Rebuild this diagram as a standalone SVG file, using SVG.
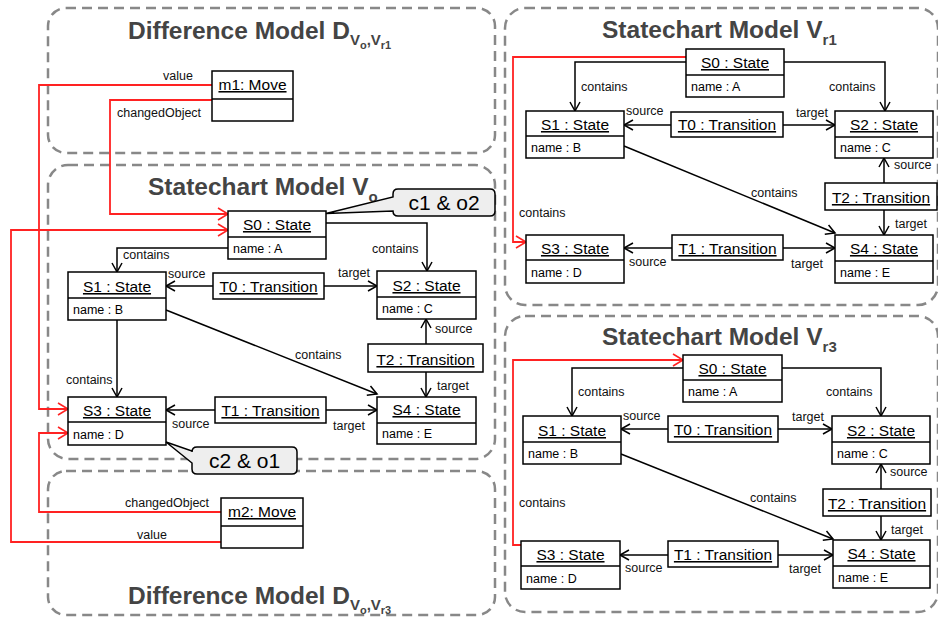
<svg xmlns="http://www.w3.org/2000/svg" width="938" height="621" viewBox="0 0 938 621">
<style>
.panel{fill:none;stroke:#888;stroke-width:2.5;stroke-dasharray:10 6}
.title{font-family:"Liberation Sans",Arial,sans-serif;font-weight:bold;fill:#444;font-size:24.5px}
.sub{font-size:15px}
.subsub{font-size:11px}
.box{fill:#fff;stroke:#000;stroke-width:1.5}
.nm{font-family:"Liberation Sans",Arial,sans-serif;font-size:15.5px;text-anchor:middle;text-decoration:underline;fill:#000}
.at{font-family:"Liberation Sans",Arial,sans-serif;font-size:12.5px;fill:#000}
.lbl{font-family:"Liberation Sans",Arial,sans-serif;font-size:12.5px;fill:#111}
.c{fill:none;stroke:#000;stroke-width:1.5}
.r{fill:none;stroke:#ff2222;stroke-width:1.8}
.call{fill:#eeeeee;stroke:#000;stroke-width:1.5}
.ct{font-family:"Liberation Sans",Arial,sans-serif;font-size:21px;text-anchor:middle;fill:#000}
</style>
<defs>
<marker id="a" viewBox="-11 -7 13 14" refX="0" refY="0" markerWidth="13" markerHeight="14" markerUnits="userSpaceOnUse" orient="auto">
<path d="M-9,-5 L0,0 L-9,5" fill="none" stroke="#000" stroke-width="1.5"/>
</marker>
<marker id="ar" viewBox="-11 -7 13 14" refX="0" refY="0" markerWidth="13" markerHeight="14" markerUnits="userSpaceOnUse" orient="auto">
<path d="M-10,-6 L0,0 L-10,6" fill="none" stroke="#ff2222" stroke-width="1.6"/>
</marker>
</defs>

<!-- panels -->
<g id="panels">
<rect class="panel" x="48" y="8" width="447" height="145" rx="18"/>
<rect class="panel" x="48" y="165" width="447" height="294" rx="20"/>
<rect class="panel" x="48" y="471" width="447" height="144" rx="18"/>
<rect class="panel" x="505" y="8" width="433" height="297" rx="20"/>
<rect class="panel" x="505" y="316" width="433" height="296" rx="20"/>
</g>

<g id="titles">
<text class="title" x="128" y="39">Difference Model D<tspan class="sub" dy="6">V</tspan><tspan class="subsub" dy="4">o</tspan><tspan class="sub" dy="-4">,V</tspan><tspan class="subsub" dy="4">r1</tspan></text>
<text class="title" x="148" y="195">Statechart Model V<tspan class="sub" dy="7">o</tspan></text>
<text class="title" x="128" y="604">Difference Model D<tspan class="sub" dy="6">V</tspan><tspan class="subsub" dy="4">o</tspan><tspan class="sub" dy="-4">,V</tspan><tspan class="subsub" dy="4">r3</tspan></text>
<text class="title" x="602" y="38">Statechart Model V<tspan class="sub" dy="7">r1</tspan></text>
<text class="title" x="602" y="345">Statechart Model V<tspan class="sub" dy="7">r3</tspan></text>
</g>

<!-- connectors -->
<g id="connectors">
<!-- Vo -->
<polyline class="c" points="228,248 117,248 117,272" marker-end="url(#a)"/>
<polyline class="c" points="326,223 427,223 427,271" marker-end="url(#a)"/>
<line class="c" x1="213" y1="286" x2="166" y2="286" marker-end="url(#a)"/>
<line class="c" x1="324" y1="286" x2="377" y2="286" marker-end="url(#a)"/>
<line class="c" x1="166" y1="310" x2="377" y2="394" marker-end="url(#a)"/>
<line class="c" x1="426" y1="344" x2="426" y2="319" marker-end="url(#a)"/>
<line class="c" x1="426" y1="372" x2="426" y2="397" marker-end="url(#a)"/>
<line class="c" x1="117" y1="320" x2="117" y2="397" marker-end="url(#a)"/>
<line class="c" x1="215" y1="410" x2="166" y2="410" marker-end="url(#a)"/>
<line class="c" x1="326" y1="410" x2="377" y2="410" marker-end="url(#a)"/>
<!-- Vr1 -->
<polyline class="c" points="686,62 575,62 575,111" marker-end="url(#a)"/>
<polyline class="c" points="784,62 885,62 885,111" marker-end="url(#a)"/>
<line class="c" x1="671" y1="125" x2="624" y2="125" marker-end="url(#a)"/>
<line class="c" x1="783" y1="125" x2="835" y2="125" marker-end="url(#a)"/>
<line class="c" x1="624" y1="146" x2="835" y2="233" marker-end="url(#a)"/>
<line class="c" x1="884" y1="183" x2="884" y2="158" marker-end="url(#a)"/>
<line class="c" x1="884" y1="210" x2="884" y2="235" marker-end="url(#a)"/>
<line class="c" x1="672" y1="248" x2="624" y2="248" marker-end="url(#a)"/>
<line class="c" x1="783" y1="248" x2="835" y2="248" marker-end="url(#a)"/>
<!-- Vr3 -->
<polyline class="c" points="683,368 572,368 572,416" marker-end="url(#a)"/>
<polyline class="c" points="782,368 881,368 881,416" marker-end="url(#a)"/>
<line class="c" x1="668" y1="429" x2="621" y2="429" marker-end="url(#a)"/>
<line class="c" x1="778" y1="429" x2="832" y2="429" marker-end="url(#a)"/>
<line class="c" x1="621" y1="454" x2="833" y2="539" marker-end="url(#a)"/>
<line class="c" x1="881" y1="489" x2="881" y2="464" marker-end="url(#a)"/>
<line class="c" x1="881" y1="516" x2="881" y2="540" marker-end="url(#a)"/>
<line class="c" x1="668" y1="555" x2="620" y2="555" marker-end="url(#a)"/>
<line class="c" x1="778" y1="555" x2="833" y2="555" marker-end="url(#a)"/>
<!-- red -->
<polyline class="r" points="212,85 39,85 39,409 68,409" marker-end="url(#ar)"/>
<polyline class="r" points="212,100 110,100 110,214 228,214" marker-end="url(#ar)"/>
<polyline class="r" points="221,512 39,512 39,433 68,433" marker-end="url(#ar)"/>
<polyline class="r" points="221,542 11,542 11,230 228,230" marker-end="url(#ar)"/>
<polyline class="r" points="686,57 513,57 513,242 526,242" marker-end="url(#ar)"/>
<polyline class="r" points="521,545 513,545 513,360 683,360" marker-end="url(#ar)"/>
</g>

<g id="labels">
<text class="lbl" x="163" y="80">value</text>
<text class="lbl" x="117" y="117">changedObject</text>
<text class="lbl" x="125" y="507">changedObject</text>
<text class="lbl" x="137" y="539">value</text>
<text class="lbl" x="123" y="259">contains</text>
<text class="lbl" x="168" y="278">source</text>
<text class="lbl" x="338" y="277">target</text>
<text class="lbl" x="372" y="253">contains</text>
<text class="lbl" x="295" y="359">contains</text>
<text class="lbl" x="435" y="333">source</text>
<text class="lbl" x="437" y="390">target</text>
<text class="lbl" x="66" y="384">contains</text>
<text class="lbl" x="172" y="428">source</text>
<text class="lbl" x="333" y="430">target</text>
<text class="lbl" x="581" y="91">contains</text>
<text class="lbl" x="829" y="91">contains</text>
<text class="lbl" x="626" y="115">source</text>
<text class="lbl" x="796" y="117">target</text>
<text class="lbl" x="894" y="169">source</text>
<text class="lbl" x="751" y="197">contains</text>
<text class="lbl" x="895" y="228">target</text>
<text class="lbl" x="519" y="217">contains</text>
<text class="lbl" x="629" y="266">source</text>
<text class="lbl" x="791" y="268">target</text>
<text class="lbl" x="578" y="396">contains</text>
<text class="lbl" x="826" y="396">contains</text>
<text class="lbl" x="623" y="420">source</text>
<text class="lbl" x="792" y="421">target</text>
<text class="lbl" x="890" y="476">source</text>
<text class="lbl" x="750" y="502">contains</text>
<text class="lbl" x="519" y="507">contains</text>
<text class="lbl" x="891" y="534">target</text>
<text class="lbl" x="625" y="572">source</text>
<text class="lbl" x="789" y="573">target</text>
</g>

<!-- Difference model nodes -->
<g id="m1"><rect class="box" x="212" y="71" width="81" height="50"/><line class="c" x1="212" y1="99" x2="293" y2="99"/><text class="nm" x="252.5" y="90">m1: Move</text></g>
<g id="m2"><rect class="box" x="221" y="498" width="82" height="50"/><line class="c" x1="221" y1="526" x2="303" y2="526"/><text class="nm" x="262" y="517">m2: Move</text></g>

<!-- Vo nodes -->
<g id="vo-S0"><rect class="box" x="228" y="211" width="98" height="48"/><line class="c" x1="228" y1="237" x2="326" y2="237"/><text class="nm" x="277" y="230">S0 : State</text><text class="at" x="233" y="253">name : A</text></g>
<g id="vo-S1"><rect class="box" x="68" y="272" width="98" height="48"/><line class="c" x1="68" y1="298" x2="166" y2="298"/><text class="nm" x="117" y="292">S1 : State</text><text class="at" x="73" y="314">name : B</text></g>
<g id="vo-S2"><rect class="box" x="377" y="271" width="99" height="48"/><line class="c" x1="377" y1="297" x2="476" y2="297"/><text class="nm" x="426.5" y="291">S2 : State</text><text class="at" x="382" y="313">name : C</text></g>
<g id="vo-T0"><rect class="box" x="213" y="273" width="111" height="26"/><text class="nm" x="268.5" y="292">T0 : Transition</text></g>
<g id="vo-T2"><rect class="box" x="368" y="344" width="115" height="28"/><text class="nm" x="425.5" y="365">T2 : Transition</text></g>
<g id="vo-S3"><rect class="box" x="68" y="397" width="98" height="48"/><line class="c" x1="68" y1="422" x2="166" y2="422"/><text class="nm" x="117" y="416">S3 : State</text><text class="at" x="73" y="439">name : D</text></g>
<g id="vo-S4"><rect class="box" x="377" y="397" width="99" height="47"/><line class="c" x1="377" y1="423" x2="476" y2="423"/><text class="nm" x="426.5" y="415">S4 : State</text><text class="at" x="382" y="438">name : E</text></g>
<g id="vo-T1"><rect class="box" x="215" y="397" width="111" height="26"/><text class="nm" x="270.5" y="416">T1 : Transition</text></g>

<!-- callouts -->
<g id="callout1"><path class="call" d="M398,189 H490 Q495,189 495,194 V211 Q495,216 490,216 H398 Q393,216 393,211 V211 L326,213.5 L393,197 V194 Q393,189 398,189 Z"/><text class="ct" x="444" y="210">c1 &amp; o2</text></g>
<g id="callout2"><path class="call" d="M197,447 H292 Q297,447 297,452 V469 Q297,474 292,474 H197 Q192,474 192,469 V463 L166,442 L192,451 V452 Q192,447 197,447 Z"/><text class="ct" x="244.5" y="468">c2 &amp; o1</text></g>

<!-- Vr1 nodes -->
<g id="r1-S0"><rect class="box" x="686" y="49" width="98" height="48"/><line class="c" x1="686" y1="75" x2="784" y2="75"/><text class="nm" x="735" y="68">S0 : State</text><text class="at" x="691" y="91">name : A</text></g>
<g id="r1-S1"><rect class="box" x="526" y="111" width="98" height="47"/><line class="c" x1="526" y1="136" x2="624" y2="136"/><text class="nm" x="575" y="130">S1 : State</text><text class="at" x="531" y="152">name : B</text></g>
<g id="r1-T0"><rect class="box" x="671" y="112" width="112" height="25"/><text class="nm" x="727" y="130">T0 : Transition</text></g>
<g id="r1-S2"><rect class="box" x="835" y="111" width="98" height="47"/><line class="c" x1="835" y1="137" x2="933" y2="137"/><text class="nm" x="884" y="130">S2 : State</text><text class="at" x="840" y="152">name : C</text></g>
<g id="r1-T2"><rect class="box" x="825" y="183" width="112" height="27"/><text class="nm" x="881" y="203">T2 : Transition</text></g>
<g id="r1-S3"><rect class="box" x="526" y="235" width="98" height="48"/><line class="c" x1="526" y1="260" x2="624" y2="260"/><text class="nm" x="575" y="254">S3 : State</text><text class="at" x="531" y="277">name : D</text></g>
<g id="r1-T1"><rect class="box" x="672" y="235" width="111" height="25"/><text class="nm" x="727.5" y="254">T1 : Transition</text></g>
<g id="r1-S4"><rect class="box" x="835" y="235" width="98" height="48"/><line class="c" x1="835" y1="261" x2="933" y2="261"/><text class="nm" x="884" y="254">S4 : State</text><text class="at" x="840" y="277">name : E</text></g>

<!-- Vr3 nodes -->
<g id="r3-S0"><rect class="box" x="683" y="355" width="99" height="47"/><line class="c" x1="683" y1="380" x2="782" y2="380"/><text class="nm" x="732.5" y="374">S0 : State</text><text class="at" x="688" y="396">name : A</text></g>
<g id="r3-S1"><rect class="box" x="523" y="416" width="98" height="48"/><line class="c" x1="523" y1="442" x2="621" y2="442"/><text class="nm" x="572" y="436">S1 : State</text><text class="at" x="528" y="458">name : B</text></g>
<g id="r3-T0"><rect class="box" x="668" y="416" width="110" height="26"/><text class="nm" x="723" y="435">T0 : Transition</text></g>
<g id="r3-S2"><rect class="box" x="832" y="416" width="98" height="48"/><line class="c" x1="832" y1="442" x2="930" y2="442"/><text class="nm" x="881" y="436">S2 : State</text><text class="at" x="837" y="458">name : C</text></g>
<g id="r3-T2"><rect class="box" x="823" y="489" width="108" height="27"/><text class="nm" x="877" y="509">T2 : Transition</text></g>
<g id="r3-S3"><rect class="box" x="521" y="541" width="99" height="48"/><line class="c" x1="521" y1="566" x2="620" y2="566"/><text class="nm" x="570.5" y="560">S3 : State</text><text class="at" x="526" y="583">name : D</text></g>
<g id="r3-T1"><rect class="box" x="668" y="541" width="110" height="26"/><text class="nm" x="723" y="560">T1 : Transition</text></g>
<g id="r3-S4"><rect class="box" x="833" y="540" width="97" height="48"/><line class="c" x1="833" y1="566" x2="930" y2="566"/><text class="nm" x="881.5" y="559">S4 : State</text><text class="at" x="838" y="582">name : E</text></g>
</svg>
